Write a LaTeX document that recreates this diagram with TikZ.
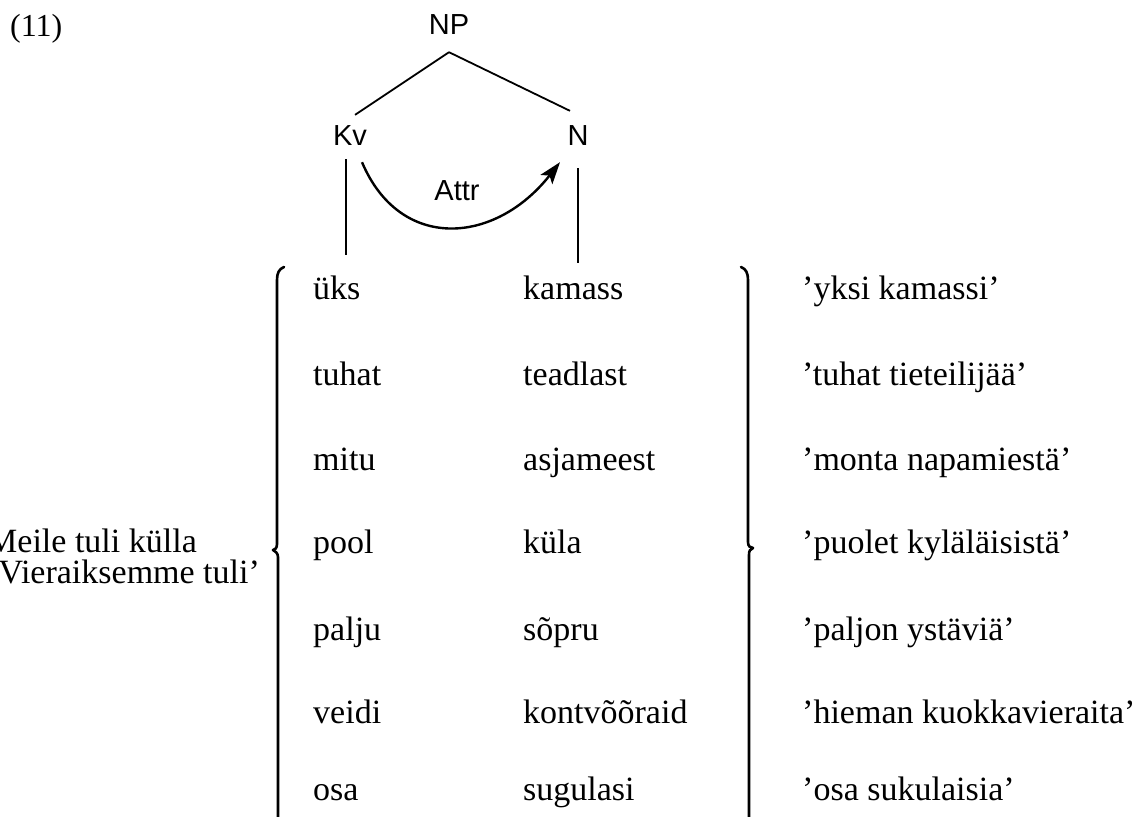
\documentclass[tikz,border=0pt]{standalone}
\usepackage{fontspec}
\setmainfont{Liberation Serif}
\newfontfamily\treefont{Liberation Sans}
\usetikzlibrary{arrows.meta}
\begin{document}
\begin{tikzpicture}[x=1pt,y=-1pt,
  word/.style={anchor=base west,inner sep=0pt,font=\fontsize{34}{34}\selectfont},
  lab/.style={anchor=base,inner sep=0pt,font=\treefont\fontsize{29}{29}\selectfont},
  treeline/.style={line width=1.8pt},
  bracket/.style={line width=2.6pt,line cap=round,line join=round}]
\useasboundingbox (0,0) rectangle (1147,816);
\clip (0,0) rectangle (1147,816);
\fill[white] (0,0) rectangle (1147,816);
% example number
\node[word,font=\fontsize{32}{32}\selectfont] (num) at (10,37) {(11)};
% tree
\node[lab] (NP) at (449,35) {NP};
\node[lab] (Kv) at (350,145) {Kv};
\node[lab] (N) at (578,145) {N};
\node[lab] (Attr) at (457,200) {Attr};
\draw[treeline] ([yshift=-17pt]NP.south) -- ([shift={(5pt,10pt)}]Kv.north);
\draw[treeline] ([yshift=-17pt]NP.south) -- ([shift={(-8pt,14pt)}]N.north);
\coordinate (kvbot) at (346,255);
\coordinate (nbot) at (578,263);
\draw[treeline] ([shift={(-4pt,-14pt)}]Kv.south) -- (kvbot);
\draw[treeline] ([yshift=-23pt]N.south) -- (nbot);
\draw[line width=2.4pt,-{Stealth[length=22pt,width=15pt,inset=5pt]}]
  ([shift={(12pt,-17pt)}]Kv.south) .. controls (400,252) and (495,245) .. ([shift={(-18pt,-17pt)}]N.south);
% left text
\node[word] (m1) at (-13,552) {Meile tuli külla};
\node[word] (m2) at (-13,583) {’Vieraiksemme tuli’};
% braces
\draw[bracket] (284,267) .. controls (279,269) and (277,273) .. (277,280) -- (277,544)
  .. controls (277,548) and (275,550) .. (273,550) .. controls (275,551) and (278,553) .. (278,557) -- (278,820);
\draw[bracket] (741,267) .. controls (746,269) and (748,273) .. (748,280) -- (748,542)
  .. controls (748,546) and (750,548) .. (753,548) .. controls (750,549) and (749,551) .. (749,555) -- (749,820);
% rows
\foreach \y/\a/\b/\c [count=\i] in {
  299/üks/kamass/{’yksi kamassi’},
  385/tuhat/teadlast/{’tuhat tieteilijää’},
  470/mitu/asjameest/{’monta napamiestä’},
  553/pool/küla/{’puolet kyläläisistä’},
  640/palju/sõpru/{’paljon ystäviä’},
  723/veidi/kontvõõraid/{’hieman kuokkavieraita’},
  800/osa/sugulasi/{’osa sukulaisia’}}{
  \node[word] (a\i) at (313,\y) {\a};
  \node[word] (b\i) at (523,\y) {\b};
  \node[word] (c\i) at (802,\y) {\c};
}
\end{tikzpicture}
\end{document}
